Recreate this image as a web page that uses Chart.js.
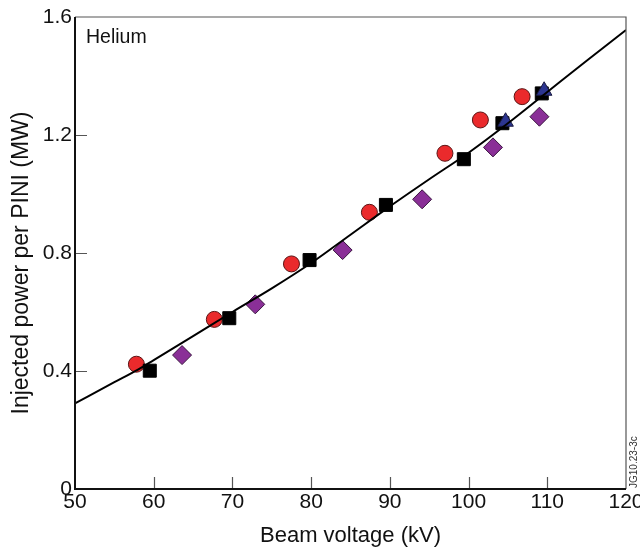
<!DOCTYPE html>
<html>
<head>
<meta charset="utf-8">
<script src="https://cdn.jsdelivr.net/npm/chart.js@4.4.0/dist/chart.umd.min.js"></script>
<style>
  html, body { margin: 0; padding: 0; background: #fff; }
  #wrap { width: 640px; height: 554px; }
</style>
</head>
<body>
<div id="wrap"><canvas id="myChart" width="640" height="554"></canvas></div>
<script>
// measured points, Beam voltage (kV) vs injected power (MW)
const circleX = [57.8, 67.7, 77.5, 87.4, 97.0, 101.5, 106.8];
const circleY = [0.423, 0.575, 0.763, 0.938, 1.138, 1.251, 1.330];
const squareX = [59.5, 69.6, 79.8, 89.5, 99.4, 104.3, 109.3];
const squareY = [0.401, 0.579, 0.776, 0.963, 1.118, 1.240, 1.341];
const diamondX = [63.6, 72.9, 84.0, 94.1, 103.1, 109.0];
const diamondY = [0.454, 0.626, 0.810, 0.982, 1.158, 1.262];
const triangleX = [104.7, 109.6];
const triangleY = [1.245, 1.350];

// fitted curve
const curveX = [50, 55, 58, 60, 65, 70, 75, 80, 85, 90, 95, 100, 105, 110, 115, 120];
const curveY = [0.290, 0.362, 0.405, 0.437, 0.518, 0.600, 0.680, 0.766, 0.862, 0.958, 1.050, 1.140, 1.240, 1.346, 1.452, 1.556];

const xTicks = [50, 60, 70, 80, 90, 100, 110, 120];
const yTicks = [0, 0.4, 0.8, 1.2, 1.6];

function pts(xs, ys) {
  return xs.map((x, i) => ({ x: x, y: ys[i] }));
}

const fontFam = "'Liberation Sans', Arial, sans-serif";

// box, inward ticks and text labels
const frame = {
  id: "frame",
  afterDraw(chart) {
    const ctx = chart.ctx;
    const a = chart.chartArea;
    const xs = chart.scales.x;
    const ys = chart.scales.y;
    ctx.save();
    ctx.strokeStyle = "#555";
    ctx.lineWidth = 1.2;
    ctx.beginPath();
    xTicks.slice(1, -1).forEach((v) => {
      const px = Math.round(xs.getPixelForValue(v)) + 0.5;
      ctx.moveTo(px, a.bottom);
      ctx.lineTo(px, a.bottom - 12);
    });
    yTicks.slice(1, -1).forEach((v) => {
      const py = Math.round(ys.getPixelForValue(v)) + 0.5;
      ctx.moveTo(a.left, py);
      ctx.lineTo(a.left + 12, py);
    });
    ctx.stroke();
    ctx.strokeStyle = "#555";
    ctx.lineWidth = 1.2;
    ctx.beginPath();
    ctx.moveTo(a.left, a.top);
    ctx.lineTo(a.right, a.top);
    ctx.lineTo(a.right, a.bottom);
    ctx.stroke();
    ctx.strokeStyle = "#111";
    ctx.lineWidth = 2;
    ctx.beginPath();
    ctx.moveTo(a.left, a.top);
    ctx.lineTo(a.left, a.bottom);
    ctx.lineTo(a.right, a.bottom);
    ctx.stroke();

    ctx.fillStyle = "#111";
    ctx.font = "19.5px " + fontFam;
    ctx.textAlign = "left";
    ctx.textBaseline = "middle";
    ctx.fillText("Helium", a.left + 11, a.top + 21);

    // y axis title
    ctx.save();
    ctx.font = "23px " + fontFam;
    ctx.textAlign = "center";
    ctx.translate(22, 263);
    ctx.rotate(-Math.PI / 2);
    ctx.fillText("Injected power per PINI (MW)", 0, 0);
    ctx.restore();

    ctx.fillStyle = "#333";
    ctx.font = "10px " + fontFam;
    ctx.translate(a.right + 8, a.bottom - 1);
    ctx.rotate(-Math.PI / 2);
    ctx.textAlign = "left";
    ctx.fillText("JG10.23-3c", 0, 0);
    ctx.restore();
  },
};

const data = {
  datasets: [
    {
      type: "line",
      data: pts(curveX, curveY),
      borderColor: "#000",
      borderWidth: 2,
      pointRadius: 0,
      tension: 0.4,
      cubicInterpolationMode: "monotone",
      order: 0,
    },
    {
      data: pts(triangleX, triangleY),
      pointStyle: "triangle",
      pointRadius: 9,
      backgroundColor: "#2c3590",
      borderColor: "#1a1a40",
      borderWidth: 1,
      order: 1,
    },
    {
      data: pts(squareX, squareY),
      pointStyle: "rect",
      pointRadius: 9.2,
      backgroundColor: "#000",
      borderColor: "#000",
      borderWidth: 1,
      order: 2,
    },
    {
      data: pts(diamondX, diamondY),
      pointStyle: "rectRot",
      pointRadius: 9.5,
      backgroundColor: "#8a2f97",
      borderColor: "#3a1540",
      borderWidth: 1,
      order: 3,
    },
    {
      data: pts(circleX, circleY),
      pointStyle: "circle",
      pointRadius: 8,
      backgroundColor: "#ea2a2c",
      borderColor: "#5a1414",
      borderWidth: 1,
      order: 4,
    },
  ],
};

const config = {
  type: "scatter",
  data: data,
  options: {
    responsive: false,
    animation: false,
    layout: { padding: { top: 17, right: 14, left: 0, bottom: 0 } },
    plugins: { legend: { display: false }, tooltip: { enabled: false } },
    scales: {
      x: {
        type: "linear",
        min: 50,
        max: 120,
        afterBuildTicks: (s) => { s.ticks = xTicks.map((v) => ({ value: v })); },
        afterFit: (s) => {
          s.height = 65;
          s.paddingLeft = 0;
          s.paddingRight = 0;
        },
        grid: { display: false, drawTicks: false },
        border: { display: false },
        ticks: {
          padding: 1,
          color: "#111",
          font: { family: fontFam, size: 21 },
          maxRotation: 0,
        },
        title: {
          display: true,
          text: "Beam voltage (kV)",
          color: "#111",
          font: { family: fontFam, size: 22 },
          padding: { top: 0, bottom: 5 },
        },
      },
      y: {
        type: "linear",
        min: 0,
        max: 1.6,
        afterBuildTicks: (s) => { s.ticks = yTicks.map((v) => ({ value: v })); },
        afterFit: (s) => {
          s.width = 75;
          s.paddingTop = 0;
          s.paddingBottom = 0;
        },
        grid: { display: false, drawTicks: false },
        border: { display: false },
        ticks: {
          padding: 3,
          color: "#111",
          font: { family: fontFam, size: 21 },
          callback: (v) => (v === 0 ? "0" : v.toFixed(1)),
        },
        title: { display: false },
      },
    },
  },
  plugins: [frame],
};

const myChart = new Chart(document.getElementById("myChart"), config);
</script>
</body>
</html>
